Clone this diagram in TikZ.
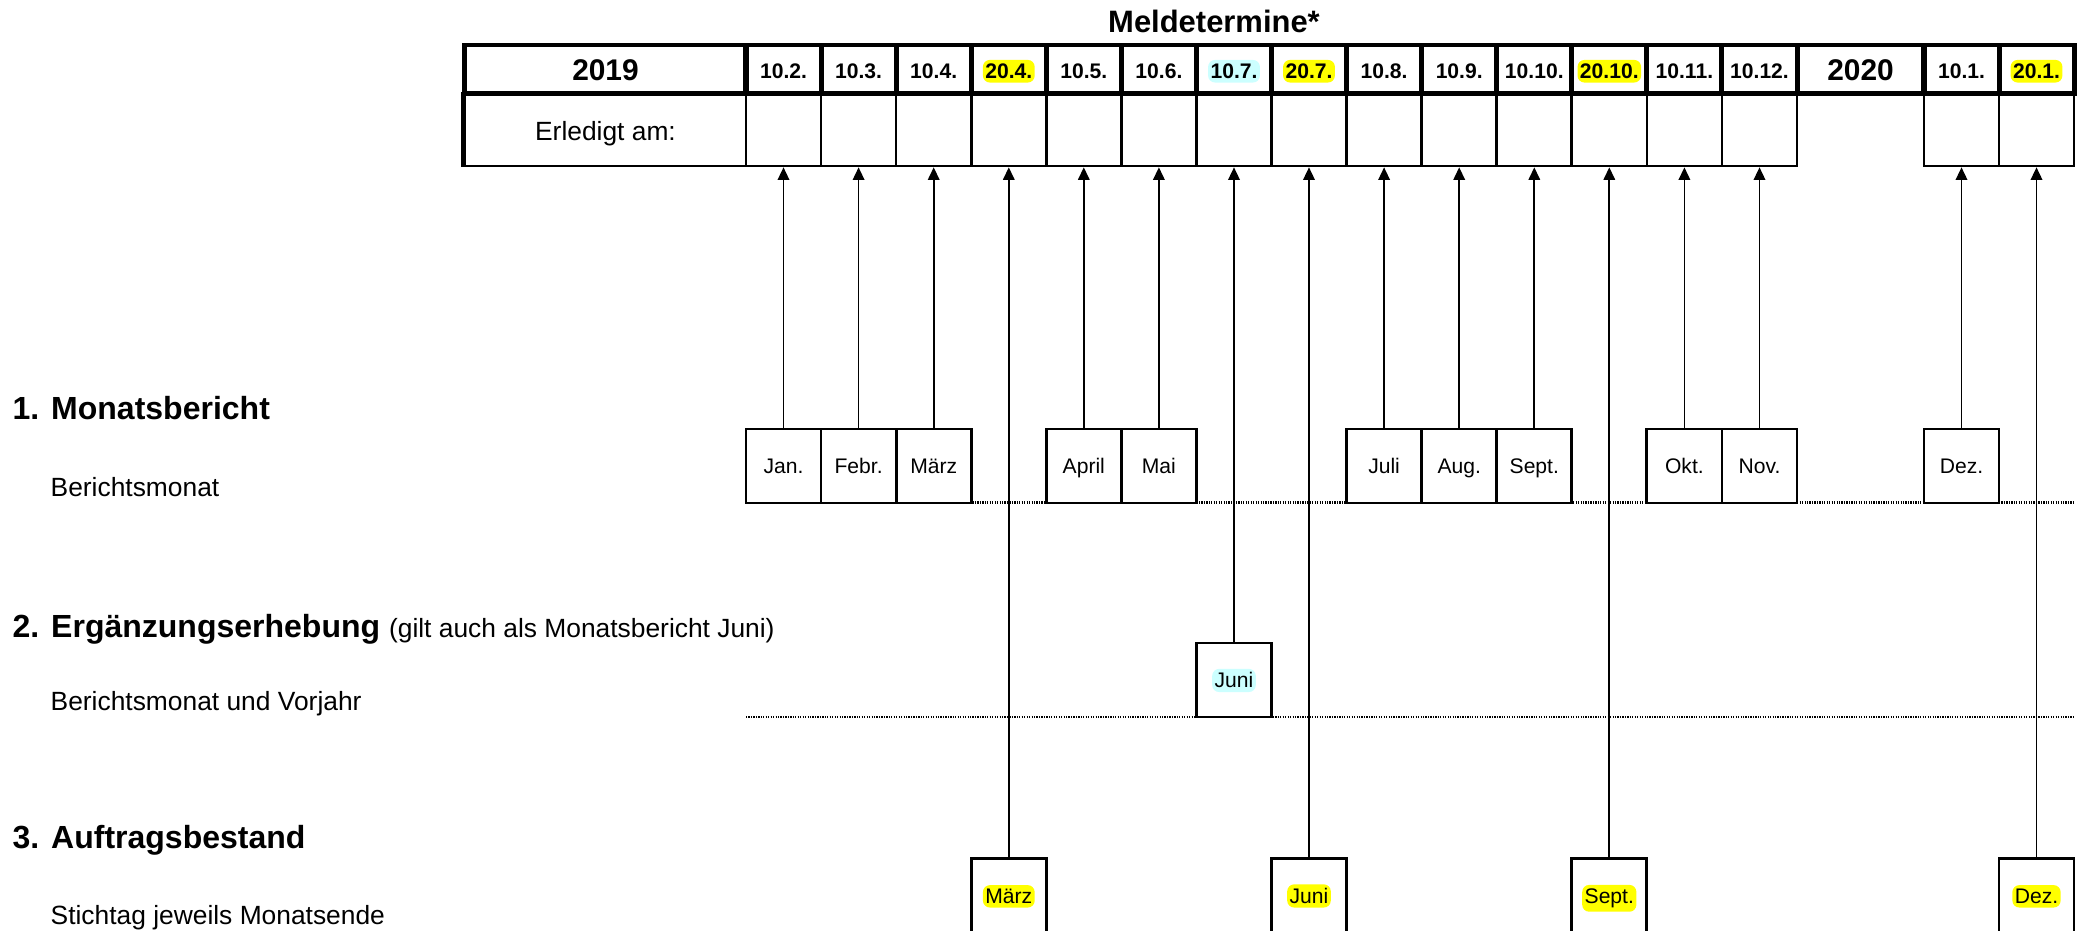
\documentclass[tikz,border=0pt]{standalone}
\usepackage{fontspec}
\setmainfont{Liberation Sans}
\usetikzlibrary{arrows.meta,positioning}

\definecolor{markyellow}{HTML}{FFFF00}
\definecolor{markcyan}{HTML}{CCFFFF}
\newcommand{\setfs}[1]{\fontsize{#1}{#1}\selectfont}

\begin{document}
\begin{tikzpicture}[x=0.01cm,y=-0.01cm,>={Triangle[length=3.6pt,width=3.3pt]},
  headcell/.style={draw,line width=1.4pt,minimum width=0.7507cm,minimum height=0.485cm,inner sep=0pt},
  donecell/.style={draw,line width=0.75pt,minimum width=0.7507cm,minimum height=0.725cm,inner sep=0pt},
  monthbox/.style={draw,line width=0.8pt,fill=white,minimum width=0.7507cm,minimum height=0.74cm,inner sep=0pt},
  datetext/.style={anchor=base,inner xsep=0.7pt,inner ysep=1.1pt,rounded corners=2pt,font=\bfseries\setfs{6}},
  monthtext/.style={anchor=base,inner xsep=0.7pt,inner ysep=1.1pt,rounded corners=2pt,font=\setfs{6}},
  rowhead/.style={anchor=base west,inner sep=0pt,font=\bfseries\setfs{9.1}},
  rowsub/.style={anchor=base west,inner sep=0pt,font=\setfs{7.5}},
  dotline/.style={line width=0.6pt,dash pattern=on 0.35pt off 0.35pt},
  report/.style={->,line width=0.48pt}]
\useasboundingbox (0,0) rectangle (2087,931);
\clip (0,0) rectangle (2087,931);

% title
\node[anchor=base,inner sep=0pt,font=\bfseries\setfs{8.8}] (title) at (1214,33) {Meldetermine*};

% table: year cells
\node[donecell,minimum width=2.81cm] (done0) at (605.5,129.75) {};
\draw[line width=1.2pt] (done0.north west) -- (done0.south west);
\node[headcell,minimum width=2.81cm] (y2019) at (605.5,69.25) {};
\node[headcell,minimum width=1.27cm] (y2020) at (1860.5,69.25) {};
\node[anchor=base,inner sep=0pt,font=\bfseries\setfs{8.5}] (t2019) at (605.5,80.5) {2019};
\node[anchor=base,inner sep=0pt,font=\bfseries\setfs{8.5}] (t2020) at (1860.5,80.5) {2020};
\node[anchor=base,inner sep=0pt,font=\setfs{7.5}] (erl) at (605.5,141) {Erledigt am:};

% table: deadline columns
\foreach \i/\cx/\lab/\mk in {1/783.5/10.2./white,2/858.6/10.3./white,3/933.7/10.4./white,
  4/1008.8/20.4./markyellow,5/1083.8/10.5./white,6/1158.9/10.6./white,7/1234.0/10.7./markcyan,
  8/1309.0/20.7./markyellow,9/1384.1/10.8./white,10/1459.2/10.9./white,11/1534.3/10.10./white,
  12/1609.3/20.10./markyellow,13/1684.4/10.11./white,14/1759.5/10.12./white,
  15/1961.5/10.1./white,16/2036.5/20.1./markyellow}
{
  \node[donecell] (d\i) at (\cx,129.75) {};
  \node[headcell] (h\i) at (\cx,69.25) {};
  \node[datetext,fill=\mk] (ht\i) at (\cx,78.5) {\lab};
}

% base lines of the rows
\coordinate (dl1a) at (746,502.5); \coordinate (dl1b) at (2074,502.5);
\coordinate (dl2a) at (746,717); \coordinate (dl2b) at (2074,717);
\draw[dotline] (dl1a) -- (dl1b);
\draw[dotline] (dl2a) -- (dl2b);

% 1. Monatsbericht
\node[rowhead] (r1) at (12,420) {1. Monatsbericht};
\node[rowsub] (r1s) at (50,497) {Berichtsmonat};
\foreach \n/\cx/\lab/\c in {Jan/783.5/Jan./1,Feb/858.6/Febr./2,Mar/933.7/März/3,
  Apr/1083.8/April/5,Mai/1158.9/Mai/6,Jul/1384.1/Juli/9,Aug/1459.2/Aug./10,
  Sep/1534.3/Sept./11,Okt/1684.4/Okt./13,Nov/1759.5/Nov./14,Dez/1961.5/Dez./15}
{
  \node[monthbox] (m\n) at (\cx,466) {};
  \node[monthtext] (mt\n) at (\cx,474) {\lab};
  \draw[report] (m\n) -- (d\c);
}

% 2. Ergaenzungserhebung
\node[rowhead] (r2) at (12,638) {2. Ergänzungserhebung {\mdseries\setfs{7.5}(gilt auch als Monatsbericht Juni)}};
\node[rowsub] (r2s) at (50,711) {Berichtsmonat und Vorjahr};
\node[monthbox] (eJun) at (1234.0,680) {};
\node[monthtext,fill=markcyan] (etJun) at (1234.0,688) {Juni};
\draw[report] (eJun) -- (d7);

% 3. Auftragsbestand
\node[rowhead] (r3) at (12,849) {3. Auftragsbestand};
\node[rowsub] (r3s) at (50,925) {Stichtag jeweils Monatsende};
\foreach \n/\cx/\lab/\c in {Mar/1008.8/März/4,Jun/1309.0/Juni/8,Sep/1609.3/Sept./12,Dez/2036.5/Dez./16}
{
  \node[monthbox] (a\n) at (\cx,895.5) {};
  \node[monthtext,fill=markyellow] (at\n) at (\cx,903.5) {\lab};
  \draw[report] (a\n) -- (d\c);
}
\end{tikzpicture}
\end{document}
